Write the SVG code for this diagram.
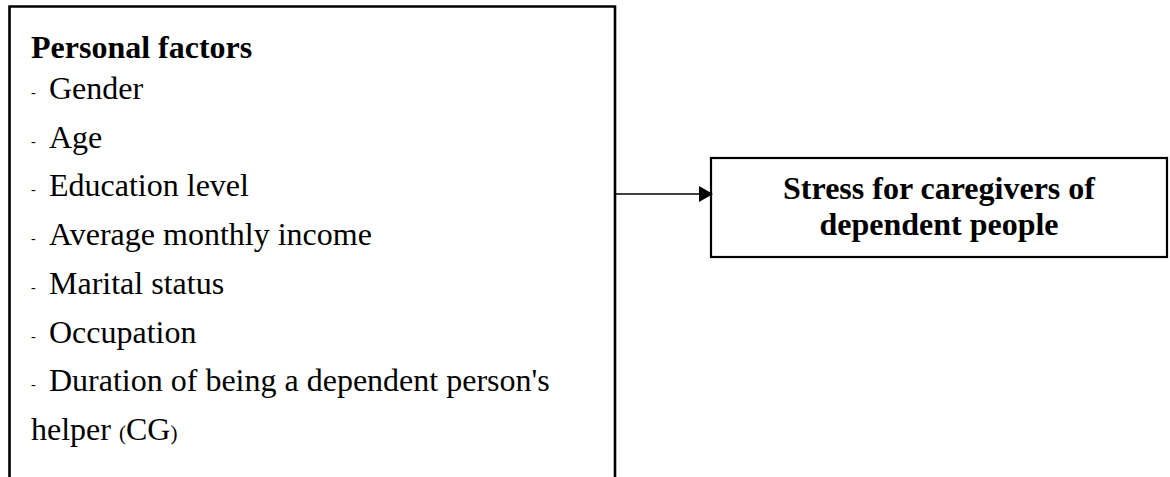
<svg xmlns="http://www.w3.org/2000/svg" width="1170" height="477" viewBox="0 0 1170 477">
<style>
.t{font-family:"Liberation Serif","Times New Roman",serif;font-size:32px;fill:#000}
.b{font-weight:bold}
.d{font-size:14px}
.p{font-size:21px}
.box{fill:#fff;stroke:#000}
.conn{stroke:#000;stroke-width:1.6;fill:none}
</style>
<defs>
<marker id="ah" viewBox="0 0 14 16" refX="0" refY="8" markerWidth="14" markerHeight="16" markerUnits="userSpaceOnUse" orient="auto">
<path d="M0,0 L14,8 L0,16 Z" fill="#000"/>
</marker>
</defs>
<rect width="1170" height="477" fill="#fff"/>
<g id="personal-factors">
<path class="box" d="M9.5,480 V6.5 H615 V480" stroke-width="2.6"/>
<text class="t b" x="31" y="58">Personal factors</text>
<text class="t d" x="31" y="97">-</text><text class="t" x="49" y="99">Gender</text>
<text class="t d" x="31" y="145.7">-</text><text class="t" x="49" y="147.7">Age</text>
<text class="t d" x="31" y="194.4">-</text><text class="t" x="49" y="196.4">Education level</text>
<text class="t d" x="31" y="243">-</text><text class="t" x="49" y="245">Average monthly income</text>
<text class="t d" x="31" y="291.8">-</text><text class="t" x="49" y="293.8">Marital status</text>
<text class="t d" x="31" y="340.5">-</text><text class="t" x="49" y="342.5">Occupation</text>
<text class="t d" x="31" y="389">-</text><text class="t" x="49" y="391">Duration of being a dependent person's</text>
<text class="t" x="31" y="440">helper <tspan class="p">(</tspan>CG<tspan class="p">)</tspan></text>
</g>
<g id="stress">
<rect class="box" x="711" y="158" width="456" height="99" stroke-width="2.2"/>
<text class="t b" x="939" y="199" text-anchor="middle">Stress for caregivers of</text>
<text class="t b" x="939" y="235" text-anchor="middle">dependent people</text>
</g>
<g id="connectors">
<line class="conn" x1="616" y1="194" x2="699" y2="194" marker-end="url(#ah)"/>
</g>
</svg>
